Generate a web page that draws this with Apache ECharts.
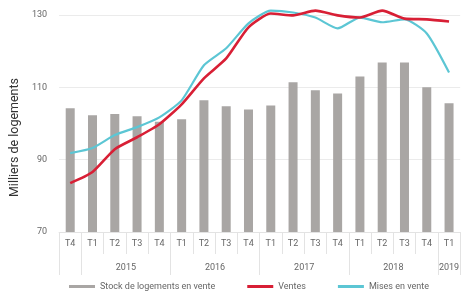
<!DOCTYPE html>
<html>
<head>
<meta charset="utf-8">
<script src="https://cdn.jsdelivr.net/npm/echarts@6/dist/echarts.min.js"></script>
<style>
  html, body { margin: 0; padding: 0; background: #fff; }
  #chart { width: 462px; height: 293px; }
</style>
</head>
<body>
<div id="chart"></div>
<script>
// Trimestres et années (T4 2014 -> T1 2019)
const quarters = ["T4", "T1", "T2", "T3", "T4", "T1", "T2", "T3", "T4", "T1", "T2", "T3", "T4", "T1", "T2", "T3", "T4", "T1"];
const years = ["2014", "2015", "2015", "2015", "2015", "2016", "2016", "2016", "2016", "2017", "2017", "2017", "2017", "2018", "2018", "2018", "2018", "2019"];
const hiddenYears = ["2014"]; // groupe partiel, pas de libellé

// Milliers de logements
const stock = [104.2, 102.3, 102.6, 102.0, 100.5, 101.2, 106.4, 104.8, 103.9, 105.0, 111.4, 109.2, 108.3, 113.0, 116.9, 116.9, 110.0, 105.6];
const ventes = [83.5, 86.6, 92.9, 96.2, 99.8, 105.3, 112.5, 118.0, 126.6, 130.4, 129.9, 131.2, 129.9, 129.3, 131.2, 129.0, 128.8, 128.2];
const misesEnVente = [91.8, 93.2, 96.8, 99.0, 101.7, 106.4, 116.1, 120.8, 127.7, 131.2, 130.7, 129.3, 126.3, 129.3, 128.0, 128.8, 124.9, 114.1];

const yTicks = { min: 70, max: 130, interval: 20 };

// Groupes d'années -> bornes et centres sur l'axe secondaire
const groups = [];
years.forEach((y, i) => {
  const last = groups[groups.length - 1];
  if (last && last.year === y) last.end = i + 1;
  else groups.push({ year: y, start: i, end: i + 1 });
});
const yearBounds = [0].concat(groups.map(g => g.end));
const yearCenters = groups.filter(g => !hiddenYears.includes(g.year)).map(g => (g.start + g.end) / 2);
function yearAt(v) {
  const g = groups.find(g => (g.start + g.end) / 2 === v);
  return g ? g.year : "";
}

const grey = "#a9a6a4";
const red = "#d81f35";
const cyan = "#5cc6d4";
const labelColor = "#666";
const sepColor = "#e3e3e3";

const chart = echarts.init(document.getElementById("chart"));
chart.setOption({
  animation: false,
  textStyle: { fontFamily: "Roboto, 'Noto Sans', sans-serif" },
  grid: { left: 53, right: -1, top: 15, bottom: 61 },
  legend: {
    bottom: -3,
    left: 64,
    itemWidth: 26,
    itemHeight: 3,
    itemGap: 32,
    icon: "rect",
    textStyle: { fontSize: 9, color: labelColor },
    data: ["Stock de logements en vente", "Ventes", "Mises en vente"]
  },
  xAxis: [
    {
      type: "category",
      data: quarters,
      axisLine: { show: true, lineStyle: { color: sepColor } },
      axisTick: { show: true, alignWithLabel: false, length: 22, lineStyle: { color: sepColor } },
      axisLabel: { fontSize: 9, color: labelColor, margin: 7 }
    },
    {
      type: "value",
      min: 0,
      max: quarters.length,
      position: "bottom",
      axisLine: { show: false },
      splitLine: { show: false },
      axisTick: {
        show: true,
        length: 43,
        customValues: yearBounds,
        lineStyle: { color: sepColor }
      },
      axisLabel: {
        customValues: yearCenters,
        fontSize: 9,
        color: labelColor,
        margin: 31,
        formatter: v => yearAt(v)
      }
    }
  ],
  yAxis: {
    type: "value",
    min: yTicks.min,
    max: yTicks.max,
    interval: yTicks.interval,
    name: "Milliers de logements",
    nameLocation: "middle",
    nameGap: 37,
    nameTextStyle: { fontSize: 12.5, color: "#333", padding: [0, 28, 0, 0] },
    axisLine: { show: false },
    axisTick: { show: false },
    axisLabel: { fontSize: 9, color: labelColor, margin: 12 },
    splitLine: { lineStyle: { color: "#ebebeb" } }
  },
  series: [
    {
      name: "Stock de logements en vente",
      type: "bar",
      data: stock,
      barWidth: 9,
      itemStyle: { color: grey }
    },
    {
      name: "Mises en vente",
      type: "line",
      data: misesEnVente,
      smooth: 0.2,
      clip: false,
      symbol: "none",
      lineStyle: { color: cyan, width: 2.2 },
      itemStyle: { color: cyan }
    },
    {
      name: "Ventes",
      type: "line",
      data: ventes,
      smooth: 0.2,
      clip: false,
      symbol: "none",
      lineStyle: { color: red, width: 2.6 },
      itemStyle: { color: red }
    }
  ]
});
</script>
</body>
</html>
